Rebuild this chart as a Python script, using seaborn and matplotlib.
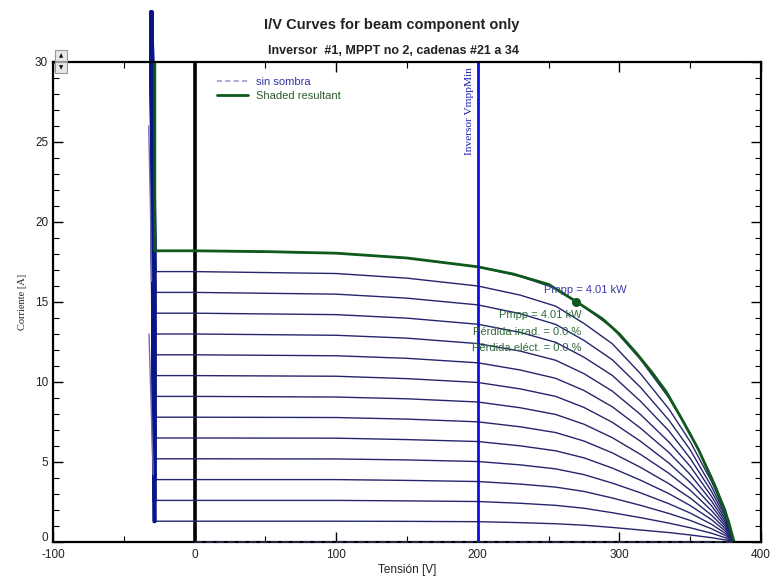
import matplotlib
matplotlib.use("Agg")
import matplotlib.pyplot as plt
import matplotlib.transforms as mtransforms
from matplotlib.lines import Line2D
from matplotlib.patches import Rectangle
import seaborn as sns
import pandas as pd

# ---------------- data ----------------
v_forward = [0, 100, 150, 200, 230, 255, 275, 295, 315, 335, 350, 365, 375, 381]
v_bypass = [-30.5, -28.3]          # top of bypass rise, knee voltage
i_bypass_top = 33.1                # current reached at top of the bypass rise
isc_values = [1.3, 2.6, 3.9, 5.2, 6.5, 7.8, 9.1, 10.4, 11.7, 13.0, 14.3, 15.6, 16.9, 18.2]

i_curve_01 = [1.30, 1.30, 1.29, 1.27, 1.21, 1.14, 1.05, 0.91, 0.75, 0.59, 0.44, 0.27, 0.13, 0]
i_curve_02 = [2.60, 2.60, 2.57, 2.53, 2.42, 2.29, 2.11, 1.83, 1.52, 1.18, 0.89, 0.55, 0.26, 0]
i_curve_03 = [3.90, 3.90, 3.85, 3.78, 3.62, 3.43, 3.16, 2.75, 2.29, 1.78, 1.35, 0.83, 0.40, 0]
i_curve_04 = [5.20, 5.19, 5.13, 5.03, 4.82, 4.57, 4.21, 3.68, 3.07, 2.39, 1.81, 1.11, 0.53, 0]
i_curve_05 = [6.50, 6.49, 6.40, 6.28, 6.01, 5.70, 5.26, 4.62, 3.86, 3.02, 2.28, 1.40, 0.67, 0]
i_curve_06 = [7.80, 7.78, 7.68, 7.51, 7.20, 6.84, 6.31, 5.57, 4.66, 3.64, 2.75, 1.68, 0.81, 0]
i_curve_07 = [9.10, 9.06, 8.95, 8.75, 8.39, 7.97, 7.36, 6.52, 5.47, 4.29, 3.24, 1.97, 0.96, 0]
i_curve_08 = [10.40, 10.36, 10.21, 9.97, 9.57, 9.10, 8.41, 7.48, 6.29, 4.93, 3.72, 2.27, 1.09, 0]
i_curve_09 = [11.70, 11.64, 11.48, 11.20, 10.75, 10.23, 9.47, 8.45, 7.11, 5.59, 4.22, 2.56, 1.24, 0]
i_curve_10 = [13.00, 12.92, 12.74, 12.40, 11.93, 11.36, 10.52, 9.43, 7.96, 6.25, 4.73, 2.86, 1.39, 0]
i_curve_11 = [14.30, 14.21, 13.99, 13.61, 13.10, 12.48, 11.55, 10.41, 8.79, 6.94, 5.23, 3.17, 1.54, 0]
i_curve_12 = [15.60, 15.49, 15.24, 14.82, 14.27, 13.60, 12.60, 11.39, 9.66, 7.61, 5.76, 3.48, 1.68, 0]
i_curve_13 = [16.90, 16.78, 16.49, 16.00, 15.43, 14.74, 13.66, 12.39, 10.51, 8.31, 6.27, 3.79, 1.84, 0]
i_curve_14 = [18.20, 18.05, 17.75, 17.20, 16.60, 15.85, 14.70, 13.40, 11.40, 9.00, 6.80, 4.10, 2.00, 0]
curve_currents = [i_curve_01, i_curve_02, i_curve_03, i_curve_04, i_curve_05, i_curve_06, i_curve_07,
                  i_curve_08, i_curve_09, i_curve_10, i_curve_11, i_curve_12, i_curve_13, i_curve_14]

# shaded resultant (denser reading of the outer curve)
shaded_v = [-28.1, -28.1, 0, 50, 100, 150, 200, 225, 250, 270, 288, 300, 312, 323, 333, 344, 356, 368, 377, 381]
shaded_i = [33.1, 18.2, 18.2, 18.15, 18.05, 17.75, 17.2, 16.75, 16.1, 15.0, 13.95, 13.0, 11.8, 10.6, 9.4,
            7.7, 5.75, 3.4, 1.3, 0]

# thin bypass strands left of the main rise
strand_a_v = [-32.4, -31.2, -30.4]
strand_a_i = [26.0, 21.0, 16.3]
strand_b_v = [-32.2, -31.0, -29.2]
strand_b_i = [13.0, 9.5, 4.2]

# sin sombra (unshaded) curve sitting on the axis
sin_sombra_v = [0, 381]
sin_sombra_i = [0, 0]

mpp_v, mpp_i = 269, 15.0
vmpp_min = 200

x_ticks = [-100, 0, 100, 200, 300, 400]
y_ticks = [0, 5, 10, 15, 20, 25, 30]

# ---------------- build long tables ----------------
rows, brows = [], []
for k, (isc, cur) in enumerate(zip(isc_values, curve_currents)):
    vs = v_bypass + v_forward
    cs = [i_bypass_top, isc] + cur
    for order, (v, c) in enumerate(zip(vs, cs)):
        rows.append({"curve": k, "order": order, "V": v, "I": c})
    for order, (v, c) in enumerate(zip(v_bypass, [i_bypass_top, isc])):
        brows.append({"curve": k, "order": order, "V": v, "I": c})
df = pd.DataFrame(rows)
df_bypass = pd.DataFrame(brows)

# ---------------- figure ----------------
sns.set_style("ticks")
plt.rcParams["font.family"] = ["Liberation Sans", "DejaVu Sans"]
plt.rcParams["axes.unicode_minus"] = False

fig = plt.figure(figsize=(7.71, 5.77), dpi=100)
ax = fig.add_axes([53 / 771, 35 / 577, 708 / 771, 480 / 577])

curve_color = "#25256e"
sns.lineplot(data=df, x="V", y="I", units="curve", estimator=None, sort=False,
             color=curve_color, linewidth=1.0, ax=ax, legend=False)
sns.lineplot(data=df_bypass, x="V", y="I", units="curve", estimator=None, sort=False,
             color="#0b1585", linewidth=3.2, ax=ax, legend=False)
for ln in ax.lines:
    ln.set_clip_on(False)
    ln.set_zorder(3)

ax.plot(strand_a_v, strand_a_i, color="#6b6bb0", lw=1.0, zorder=3)
ax.plot(strand_b_v, strand_b_i, color="#6b6bb0", lw=1.0, zorder=3)

# shaded resultant
sns.lineplot(x=shaded_v, y=shaded_i, sort=False, estimator=None, color="#0d5a1c", linewidth=2.0,
             ax=ax, legend=False)
ax.lines[-1].set_zorder(4)
ax.plot([mpp_v], [mpp_i], "o", color="#0d5a1c", ms=5.5, zorder=5)

# sin sombra dashed along axis
ax.plot(sin_sombra_v, sin_sombra_i, color="#2a2a50", lw=1.3, ls=(0, (4, 2)), zorder=9, clip_on=False)

# vertical lines
ax.axvline(0, color="black", lw=2.6, zorder=2)
ax.axvline(vmpp_min, color="#1010e0", lw=2.0, zorder=4)
ax.text(vmpp_min - 2.5, 29.65, "Inversor VmppMin", rotation=90, ha="right", va="top",
        color="#1a1ab0", fontsize=8.2, family=["Liberation Serif", "DejaVu Serif"])

# annotations
ax.text(247, 15.75, "Pmpp = 4.01 kW", color="#3a3aa8", fontsize=8, ha="left", va="center", zorder=6)
ax.text(273, 14.2, "Pmpp = 4.01 kW", color="#2f6a3a", fontsize=8, ha="right", va="center", zorder=6)
ax.text(273, 13.15, "Pérdida irrad. = 0.0 %", color="#2f6a3a", fontsize=8, ha="right", va="center", zorder=6)
ax.text(273, 12.1, "Pérdida eléct. = 0.0 %", color="#2f6a3a", fontsize=8, ha="right", va="center", zorder=6)

# legend
handles = [Line2D([], [], color="#9a9ac8", lw=1.2, ls=(0, (3, 2))),
           Line2D([], [], color="#0d5a1c", lw=2.0)]
leg = ax.legend(handles, ["sin sombra", "Shaded resultant"], loc="upper left",
                bbox_to_anchor=(0.218, 0.99), frameon=False, fontsize=8,
                handlelength=2.8, handletextpad=0.7, labelspacing=0.35,
                labelcolor=["#3535a8", "#2d5a2d"])
leg.set_zorder(7)

# axes
ax.set_xlim(-100, 400)
ax.set_ylim(0, 30)
ax.set_xticks(x_ticks)
ax.set_yticks(y_ticks)
ax.set_xticks(range(-50, 400, 100), minor=True)
ax.set_yticks([y for y in range(0, 31) if y % 5 != 0], minor=True)
ax.tick_params(which="both", direction="in", top=True, right=True, labelsize=8.5,
               labelcolor="#222222", color="black")
ax.tick_params(which="major", length=7, width=1.0)
ax.tick_params(axis="x", which="major", pad=5)
ax.tick_params(which="minor", length=4, width=0.8)
for s in ax.spines.values():
    s.set_linewidth(1.6)
    s.set_color("black")
    s.set_zorder(8)
ax.set_xlabel("Tensión [V]", fontsize=8.5, labelpad=2, color="#222222")
ax.set_ylabel("Corriente [A]", fontsize=7.5, labelpad=6, color="#222222",
              family=["Liberation Serif", "DejaVu Serif"])
ax.grid(False)

# lift the "0" current label slightly so it clears the "-100" voltage label
fig.canvas.draw()
ylabels = ax.get_yticklabels()
ylabels[0].set_transform(ylabels[0].get_transform() +
                         mtransforms.ScaledTranslation(0, 4 / 72, fig.dpi_scale_trans))

# titles
fig.text(392 / 771, 1 - 25 / 577, "I/V Curves for beam component only", ha="center", va="center",
         fontsize=10.5, fontweight="bold", color="#222222")
fig.text(394 / 771, 1 - 51 / 577, "Inversor  #1, MPPT no 2, cadenas #21 a 34", ha="center",
         va="center", fontsize=9, fontweight="bold", color="#222222")

# small spinner widget near the top-left corner
for y0, sym in [(577 - 61, "▲"), (577 - 73, "▼")]:
    fig.patches.append(Rectangle((55 / 771, y0 / 577), 12 / 771, 11 / 577, transform=fig.transFigure,
                                 facecolor="#e8e8e8", edgecolor="#999999", lw=0.8, zorder=10))
    fig.text(61 / 771, (y0 + 5.5) / 577, sym, ha="center", va="center", fontsize=4,
             color="#111111", family="DejaVu Sans", zorder=11)

fig.savefig("out.png", dpi=100)
